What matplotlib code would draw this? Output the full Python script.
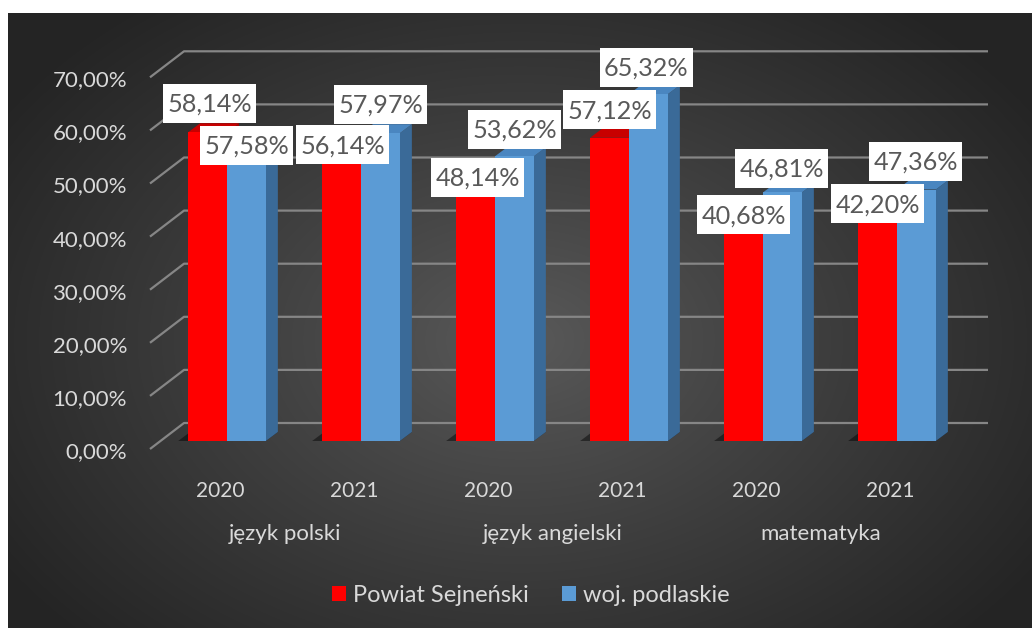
import numpy as np
import matplotlib
matplotlib.use("Agg")
import matplotlib.pyplot as plt
from matplotlib.patches import Polygon, Rectangle
from matplotlib.lines import Line2D
from matplotlib.transforms import IdentityTransform

plt.rcParams['font.family'] = ['Lato', 'DejaVu Sans']

# ---- data -------------------------------------------------------------
subjects = ["język polski", "język angielski", "matematyka"]
years = ["2020", "2021", "2020", "2021", "2020", "2021"]
series_names = ["Powiat Sejneński", "woj. podlaskie"]
powiat = [58.14, 56.14, 48.14, 57.12, 40.68, 42.20]
wojewodztwo = [57.58, 57.97, 53.62, 65.32, 46.81, 47.36]
y_ticks = [0, 10, 20, 30, 40, 50, 60, 70]

# ---- style ------------------------------------------------------------
RED_FRONT, RED_TOP, RED_SIDE = "#ff0000", "#c80000", "#a00000"
BLUE_FRONT, BLUE_TOP, BLUE_SIDE = "#5b9bd5", "#4a86c0", "#3a6a98"
GRID = "#868686"
AXIS_TXT = "#d9d9d9"
LABEL_TXT = "#595959"

# pseudo-3D offsets in pixels (x right, y up)
DEPTH = np.array([12.0, 9.0])    # bar depth
BACK = np.array([24.0, 18.0])    # back wall relative to bar plane
FRONT = np.array([-10.0, -8.0])  # front edge relative to bar plane

# data label offsets (pixels) from each bar's top-centre, and box size
red_lbl_off = [(2, 29), (1, -2), (2, 8), (0, 28), (0, 10), (0, 13)]
blue_lbl_off = [(0, -10), (0, 29), (0, 27), (-2, 27), (-1, 24), (-1, 28)]
BOX_W, BOX_H = 93, 39

W, H, DPI = 1032, 628, 100
fig = plt.figure(figsize=(W / DPI, H / DPI), dpi=DPI)

# radial gradient background with a white margin on top and left
bg = fig.add_axes([0, 0, 1, 1], zorder=-10)
yy, xx = np.mgrid[0:H, 0:W]
r = np.clip(np.sqrt(((xx - 520) / 620) ** 2 + ((yy - 340) / 430) ** 2), 0, 1)
inner = np.array([0x5a, 0x5a, 0x5a]) / 255
outer = np.array([0x24, 0x24, 0x24]) / 255
img = inner + (outer - inner) * r[..., None] ** 0.9
img[:13, :] = 1.0
img[:, :8] = 1.0
bg.imshow(img, aspect="auto", interpolation="bilinear")
bg.axis("off")

# plot area in the plane of the bar fronts
ax = fig.add_axes([160 / W, (H - 441) / H, 804 / W, 371.7 / H])
ax.set_xlim(-0.5, 5.5)
ax.set_ylim(0, 70)
ax.axis("off")
ax.patch.set_alpha(0)

pos = np.arange(len(powiat))
width = 0.29
red = ax.bar(pos - width / 2, powiat, width, color=RED_FRONT, zorder=4, linewidth=0)
blue = ax.bar(pos + width / 2, wojewodztwo, width, color=BLUE_FRONT, zorder=6, linewidth=0)

T = ax.transData
ident = IdentityTransform()

# back wall / side gridlines
for v in y_ticks:
    left = T.transform((-0.5, v))
    right = T.transform((5.5, v))
    pts = np.array([left + FRONT, left + BACK, right + BACK])
    ax.add_line(Line2D(pts[:, 0], pts[:, 1], color=GRID, lw=1.6,
                       transform=ident, clip_on=False, zorder=1,
                       solid_capstyle="butt"))


def faces(x0, x1, v, top_c, side_c, z):
    br = T.transform((x1, 0))
    tl = T.transform((x0, v))
    tr = T.transform((x1, v))
    side = [br, br + DEPTH, tr + DEPTH, tr]
    top = [tl, tr, tr + DEPTH, tl + DEPTH]
    ax.add_patch(Polygon(side, closed=True, fc=side_c, ec="none",
                         transform=ident, zorder=z, clip_on=False))
    ax.add_patch(Polygon(top, closed=True, fc=top_c, ec="none",
                         transform=ident, zorder=z, clip_on=False))


# floor shadows behind each pair
for i in pos:
    bl = T.transform((i - width, 0))
    br = T.transform((i + width, 0))
    shadow = [bl + np.array([-10, 0]), br, br + DEPTH, bl + DEPTH + np.array([-10, 0])]
    ax.add_patch(Polygon(shadow, closed=True, fc="black", ec="none", alpha=0.45,
                         transform=ident, zorder=2, clip_on=False))

for i in pos:
    faces(i - width, i, powiat[i], RED_TOP, RED_SIDE, 3)
    faces(i, i + width, wojewodztwo[i], BLUE_TOP, BLUE_SIDE, 5)

# value axis labels on the front edge
for v in y_ticks:
    ax.annotate(f"{v:.2f}%".replace(".", ","), xy=(-0.5, v), xytext=(-33, -11),
                textcoords="offset pixels", ha="right", va="center",
                fontsize=16, color=AXIS_TXT, annotation_clip=False)

# category labels: years and subjects
for i in pos:
    ax.annotate(years[i], xy=(i, 0), xytext=(-7, -50), textcoords="offset pixels",
                ha="center", va="center", fontsize=15, color=AXIS_TXT,
                annotation_clip=False)
for k, name in enumerate(subjects):
    ax.annotate(name, xy=(2 * k + 0.5, 0), xytext=(-9, -93), textcoords="offset pixels",
                ha="center", va="center", fontsize=16, color=AXIS_TXT,
                annotation_clip=False)


# data labels in white boxes
def value_label(x, v, off):
    c = T.transform((x, v)) + np.array(off, dtype=float)
    ax.add_patch(Rectangle((c[0] - BOX_W / 2, c[1] - BOX_H / 2), BOX_W, BOX_H,
                           fc="white", ec="none", transform=ident, zorder=10,
                           clip_on=False))
    ax.annotate(f"{v:.2f}%".replace(".", ","), xy=(x, v), xytext=(off[0], off[1] - 1),
                textcoords="offset pixels", ha="center", va="center",
                fontsize=18.2, color=LABEL_TXT, zorder=11, annotation_clip=False)


for i in pos:
    value_label(i - width / 2, powiat[i], red_lbl_off[i])
for i in pos:
    value_label(i + width / 2, wojewodztwo[i], blue_lbl_off[i])

leg = fig.legend(handles=[red, blue], labels=series_names, loc="center",
                 bbox_to_anchor=(531 / W, 1 - 595 / H), ncol=2, frameon=False,
                 fontsize=17, labelcolor=AXIS_TXT, handlelength=0.6,
                 handleheight=0.6, handletextpad=0.3, columnspacing=1.4)

fig.savefig("out.png", dpi=DPI)
